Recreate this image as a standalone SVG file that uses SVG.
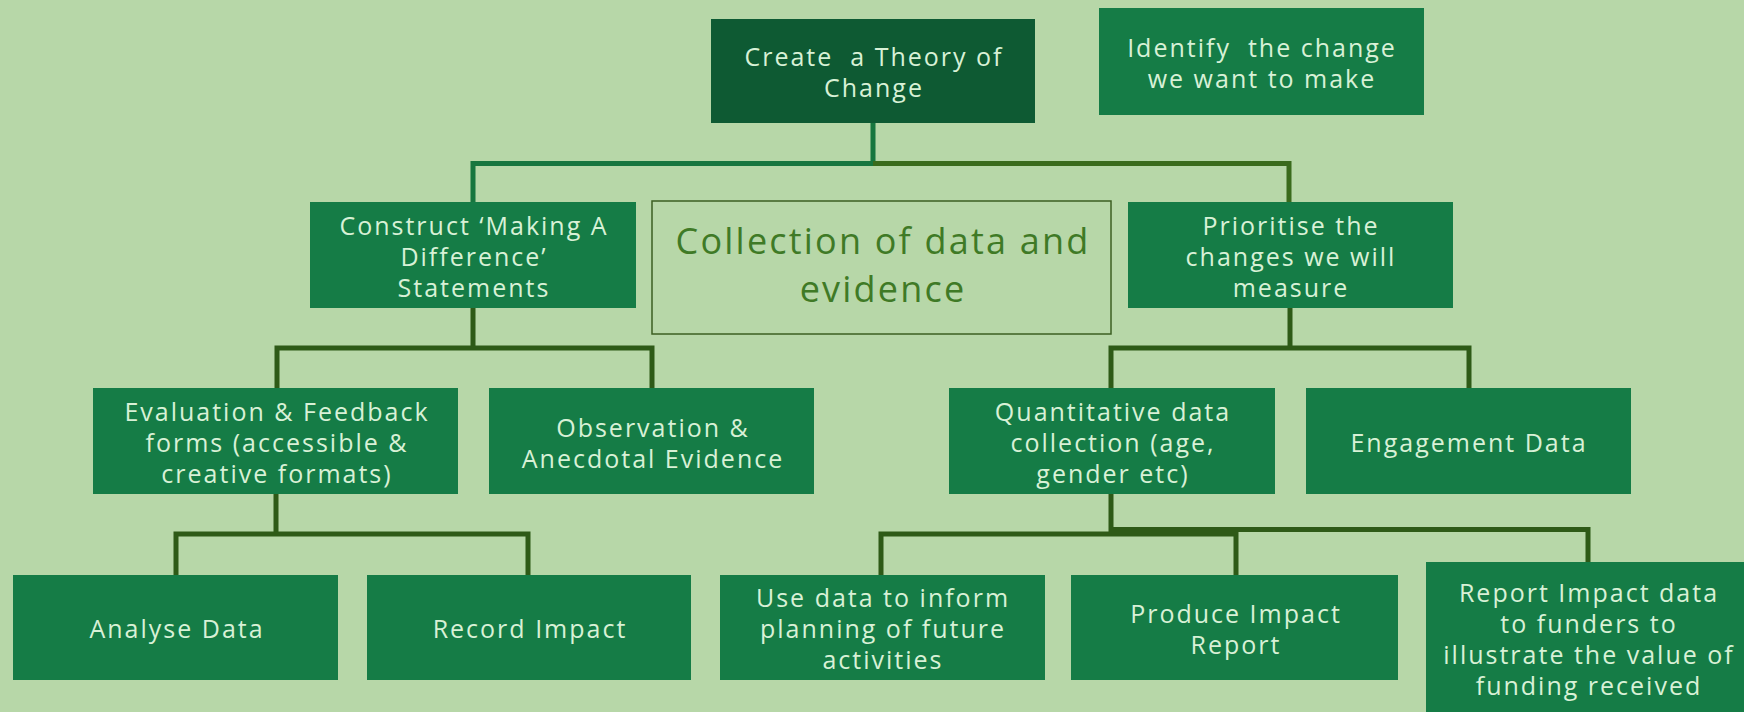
<svg xmlns="http://www.w3.org/2000/svg" width="1744" height="712" viewBox="0 0 1744 712">
  <style>
    .box { fill: #157c46; }
    .dark { fill: #0e5a33; }
    .t { font-family: "Open Sans", "Noto Sans", "Liberation Sans", sans-serif; font-size: 25px; letter-spacing: 2px; fill: #d8f1d6; text-anchor: middle; dominant-baseline: central; }
    .big { font-family: "Open Sans", "Noto Sans", "Liberation Sans", sans-serif; font-size: 36px; letter-spacing: 2.2px; fill: #3f7a26; text-anchor: middle; dominant-baseline: central; }
    .c { fill: none; stroke: #2e5a17; stroke-width: 5; }
  </style>
  <rect width="1744" height="712" fill="#b7d7a8"/>

  <g id="connectors">
    <path d="M873 123 V163.5 M873 163.5 H473 V202" fill="none" stroke="#17763f" stroke-width="5"/>
    <path d="M873 163.5 H1289 V202" fill="none" stroke="#3a6b1c" stroke-width="5"/>
    <path class="c" d="M473 308 V348 M277 388 V348 H652 V388"/>
    <path class="c" d="M1290 308 V348 M1111 388 V348 H1469 V388"/>
    <path class="c" d="M276 494 V534 M176 575 V534 H528 V575"/>
    <path class="c" d="M1111 494 V534 M881 575 V534 H1236 V575"/>
    <path class="c" d="M1111 529.5 H1588 V562"/>
  </g>

  <g id="create">
    <rect class="dark" x="711" y="19" width="324" height="104"/>
    <text class="t" x="874" y="56" xml:space="preserve">Create  a Theory of</text>
    <text class="t" x="874" y="87">Change</text>
  </g>
  <g id="identify">
    <rect class="box" x="1099" y="8" width="325" height="107"/>
    <text class="t" x="1262" y="47" xml:space="preserve">Identify  the change</text>
    <text class="t" x="1262" y="78">we want to make</text>
  </g>
  <g id="construct">
    <rect class="box" x="310" y="202" width="326" height="106"/>
    <text class="t" x="474" y="225">Construct ‘Making A</text>
    <text class="t" x="474" y="256">Difference’</text>
    <text class="t" x="474" y="287">Statements</text>
  </g>
  <g id="collection">
    <rect x="652" y="201" width="459" height="133" fill="none" stroke="#3d5f22" stroke-width="1.5"/>
    <text class="big" x="883" y="240">Collection of data and</text>
    <text class="big" x="883" y="288">evidence</text>
  </g>
  <g id="prioritise">
    <rect class="box" x="1128" y="202" width="325" height="106"/>
    <text class="t" x="1291" y="225">Prioritise the</text>
    <text class="t" x="1291" y="256">changes we will</text>
    <text class="t" x="1291" y="287">measure</text>
  </g>
  <g id="evaluation">
    <rect class="box" x="93" y="388" width="365" height="106"/>
    <text class="t" x="277" y="411">Evaluation &amp; Feedback</text>
    <text class="t" x="277" y="442">forms (accessible &amp;</text>
    <text class="t" x="277" y="473">creative formats)</text>
  </g>
  <g id="observation">
    <rect class="box" x="489" y="388" width="325" height="106"/>
    <text class="t" x="653" y="427">Observation &amp;</text>
    <text class="t" x="653" y="458">Anecdotal Evidence</text>
  </g>
  <g id="quantitative">
    <rect class="box" x="949" y="388" width="326" height="106"/>
    <text class="t" x="1113" y="411">Quantitative data</text>
    <text class="t" x="1113" y="442">collection (age,</text>
    <text class="t" x="1113" y="473">gender etc)</text>
  </g>
  <g id="engagement">
    <rect class="box" x="1306" y="388" width="325" height="106"/>
    <text class="t" x="1469" y="442">Engagement Data</text>
  </g>
  <g id="analyse">
    <rect class="box" x="13" y="575" width="325" height="105"/>
    <text class="t" x="177" y="628">Analyse Data</text>
  </g>
  <g id="record">
    <rect class="box" x="367" y="575" width="324" height="105"/>
    <text class="t" x="530" y="628">Record Impact</text>
  </g>
  <g id="usedata">
    <rect class="box" x="720" y="575" width="325" height="105"/>
    <text class="t" x="883" y="597">Use data to inform</text>
    <text class="t" x="883" y="628">planning of future</text>
    <text class="t" x="883" y="659">activities</text>
  </g>
  <g id="produce">
    <rect class="box" x="1071" y="575" width="327" height="105"/>
    <text class="t" x="1236" y="613">Produce Impact</text>
    <text class="t" x="1236" y="644">Report</text>
  </g>
  <g id="report">
    <rect class="box" x="1426" y="562" width="325" height="160"/>
    <text class="t" x="1589" y="592">Report Impact data</text>
    <text class="t" x="1589" y="623">to funders to</text>
    <text class="t" x="1589" y="654">illustrate the value of</text>
    <text class="t" x="1589" y="685">funding received</text>
  </g>
</svg>
